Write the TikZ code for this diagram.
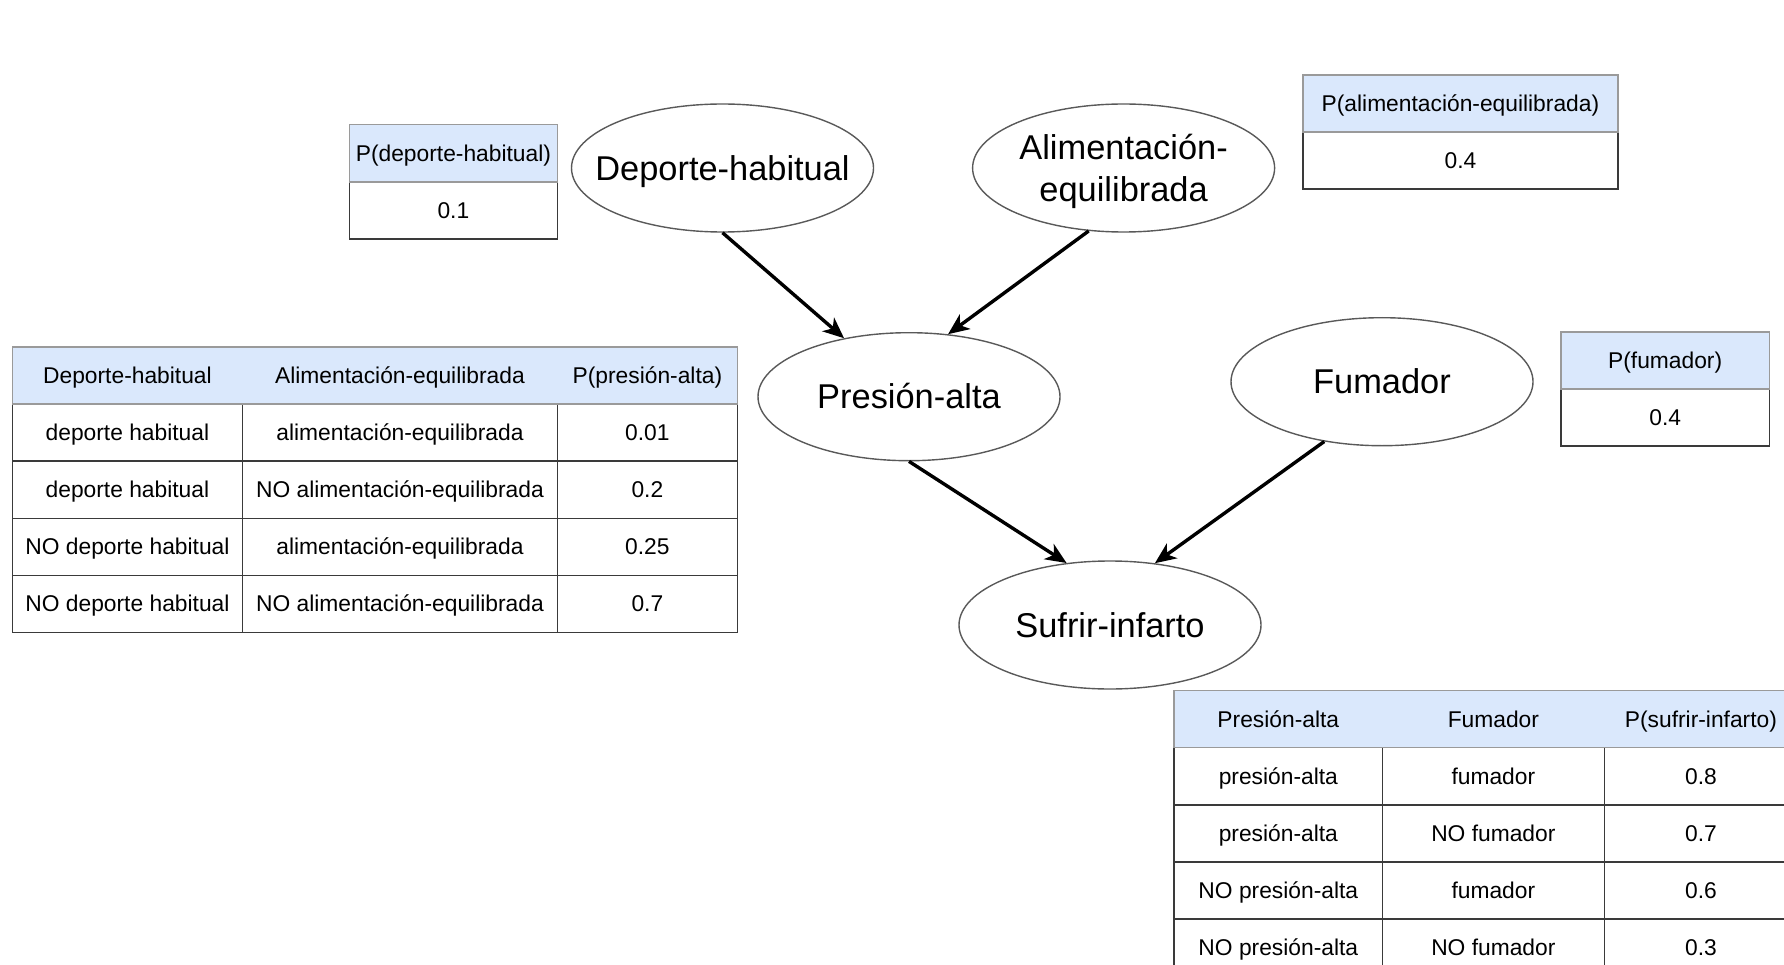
\documentclass[tikz,border=0pt]{standalone}
\usepackage{fontspec}
\setmainfont{Liberation Sans}
\usetikzlibrary{shapes.geometric,arrows.meta}
\definecolor{hdr}{HTML}{DAE8FC}
\definecolor{hdrline}{HTML}{9A9A9A}
\definecolor{bodyline}{HTML}{3A3A3A}
\newcommand{\tabfont}{\fontsize{22.8}{27}\selectfont}
\newcommand{\zb}[1]{\makebox[0pt]{#1}}
\begin{document}
\begin{tikzpicture}[x=1pt,y=-1pt,
  var/.style={ellipse, draw=black!65, line width=1.4pt, minimum width=302pt, minimum height=128pt, inner sep=0pt, font=\fontsize{34.4}{41}\selectfont, text height=27pt, text depth=2.5pt},
  vtext/.style={inner sep=0pt, font=\fontsize{34.4}{42}\selectfont, align=center},
  hcell/.style={draw=hdrline, fill=hdr, line width=1.5pt, inner sep=0pt},
  htext/.style={inner sep=0pt, font=\tabfont, text height=19pt, text depth=3pt},
  bcell/.style={draw=bodyline, line width=1.6pt, inner sep=0pt, font=\tabfont, text height=19pt, text depth=3pt},
  sz/.style 2 args={minimum width=#1pt, minimum height=#2pt},
  link/.style={-{Stealth[length=21pt,width=18pt,inset=6pt]}, line width=3.4pt, black}
]
\useasboundingbox (0,0) rectangle (1784,965);
\clip (0,0) rectangle (1784,965);

% ---------- variables ----------
\node[var] (dep)  at (722.5,168)  {\zb{Deporte-habitual}};
\node[var] (ali)  at (1123.6,168) {};
\node[vtext] (alit) at (1123.6,171) {Alimentación-\\equilibrada};
\node[var] (pres) at (909,396.7)  {\zb{Presión-alta}};
\node[var] (fum)  at (1382,381.7) {\zb{Fumador}};
\node[var] (suf)  at (1110,625)   {\zb{Sufrir-infarto}};

% ---------- arrows ----------
\draw[link] (dep.270)   -- (pres.138.8);
\draw[link] (ali.241.7) -- (pres.58.3);
\draw[link] (pres.270)  -- (suf.125.9);
\draw[link] (fum.226.6) -- (suf.54.1);

% ---------- P(deporte-habitual) ----------
\node[bcell, sz={208.2}{57.3}] (depv) at (453.4,210.5) {0.1};
\node[hcell, sz={208.2}{57.3}] (deph) at (453.4,153.2) {};
\node[htext] (depht) at (deph) {P(deporte-habitual)};

% ---------- P(alimentacion-equilibrada) ----------
\node[bcell, sz={315.2}{57}] (aliv) at (1460.4,160.5) {0.4};
\node[hcell, sz={315.2}{57}] (alih) at (1460.4,103.5) {};
\node[htext] (aliht) at (alih) {P(alimentación-equilibrada)};

% ---------- P(fumador) ----------
\node[bcell, sz={208.3}{57}] (fumv) at (1665.15,417.5) {0.4};
\node[hcell, sz={208.3}{57}] (fumh) at (1665.15,360.5) {};
\node[htext] (fumht) at (fumh) {P(fumador)};

% ---------- P(presion-alta) table ----------
\node[bcell, sz={229.9}{57.1}] (p11) at (127.45,432.65) {deporte habitual};
\node[bcell, sz={315.1}{57.1}] (p12) at (399.95,432.65) {alimentación-equilibrada};
\node[bcell, sz={179.8}{57.1}] (p13) at (647.4,432.65)  {0.01};
\node[bcell, sz={229.9}{57.1}] (p21) at (127.45,489.75) {deporte habitual};
\node[bcell, sz={315.1}{57.1}] (p22) at (399.95,489.75) {NO alimentación-equilibrada};
\node[bcell, sz={179.8}{57.1}] (p23) at (647.4,489.75)  {0.2};
\node[bcell, sz={229.9}{57.1}] (p31) at (127.45,546.85) {NO deporte habitual};
\node[bcell, sz={315.1}{57.1}] (p32) at (399.95,546.85) {alimentación-equilibrada};
\node[bcell, sz={179.8}{57.1}] (p33) at (647.4,546.85)  {0.25};
\node[bcell, sz={229.9}{57.1}] (p41) at (127.45,603.95) {NO deporte habitual};
\node[bcell, sz={315.1}{57.1}] (p42) at (399.95,603.95) {NO alimentación-equilibrada};
\node[bcell, sz={179.8}{57.1}] (p43) at (647.4,603.95)  {0.7};
\node[hcell, sz={724.8}{57.1}] (ph)  at (374.9,375.55) {};
\node[htext] (ph1) at (127.45,375.55) {Deporte-habitual};
\node[htext] (ph2) at (399.95,375.55) {Alimentación-equilibrada};
\node[htext] (ph3) at (647.4,375.55)  {P(presión-alta)};

% ---------- P(sufrir-infarto) table ----------
\node[bcell, sz={208.2}{57.2}] (s11) at (1278.3,776.2)  {presión-alta};
\node[bcell, sz={221.9}{57.2}] (s12) at (1493.35,776.2) {fumador};
\node[bcell, sz={193.2}{57.2}] (s13) at (1700.9,776.2)  {0.8};
\node[bcell, sz={208.2}{57.2}] (s21) at (1278.3,833.4)  {presión-alta};
\node[bcell, sz={221.9}{57.2}] (s22) at (1493.35,833.4) {NO fumador};
\node[bcell, sz={193.2}{57.2}] (s23) at (1700.9,833.4)  {0.7};
\node[bcell, sz={208.2}{57.2}] (s31) at (1278.3,890.6)  {NO presión-alta};
\node[bcell, sz={221.9}{57.2}] (s32) at (1493.35,890.6) {fumador};
\node[bcell, sz={193.2}{57.2}] (s33) at (1700.9,890.6)  {0.6};
\node[bcell, sz={208.2}{57.2}] (s41) at (1278.3,947.8)  {NO presión-alta};
\node[bcell, sz={221.9}{57.2}] (s42) at (1493.35,947.8) {NO fumador};
\node[bcell, sz={193.2}{57.2}] (s43) at (1700.9,947.8)  {0.3};
\node[hcell, sz={623.3}{57.2}] (sh)  at (1485.85,719) {};
\node[htext] (sh1) at (1278.3,719)  {Presión-alta};
\node[htext] (sh2) at (1493.35,719) {Fumador};
\node[htext] (sh3) at (1700.9,719)  {P(sufrir-infarto)};
\end{tikzpicture}
\end{document}
